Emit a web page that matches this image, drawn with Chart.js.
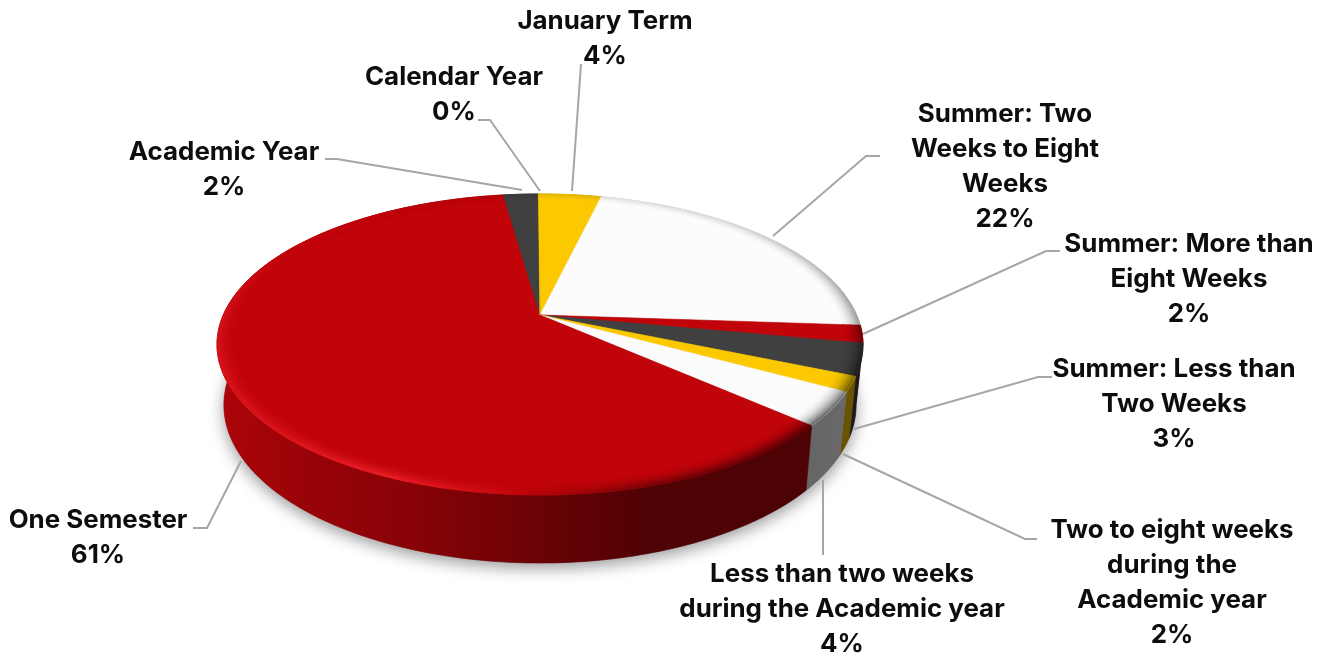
<!DOCTYPE html>
<html>
<head>
<meta charset="utf-8">
<title>Program duration</title>
<script src="https://cdn.jsdelivr.net/npm/chart.js@4"></script>
<style>
  html, body { margin: 0; padding: 0; background: #fff; }
  canvas { display: block; }
</style>
</head>
<body>
<canvas id="durationPie" width="1330" height="656"></canvas>
<script>
// chart data, clockwise from 12 o'clock
const categories = [
    ['January Term'],
    ['Summer: Two', 'Weeks to Eight', 'Weeks'],
    ['Summer: More than', 'Eight Weeks'],
    ['Summer: Less than', 'Two Weeks'],
    ['Two to eight weeks', 'during the', 'Academic year'],
    ['Less than two weeks', 'during the Academic year'],
    ['One Semester'],
    ['Academic Year'],
    ['Calendar Year']
];
const shares = [3.7, 22.4, 1.9, 3.4, 1.6, 3.6, 61.2, 2.1, 0.1];
const sliceColors = ['#FCC900', '#FCFCFC', '#C0040A', '#404040', '#FCC900', '#FCFCFC', '#C0040A', '#404040', '#FCC900'];

// label placement: centre x, centre y of first line
const labelSpots = [
    [605, 21], [1005, 114], [1189, 244], [1174, 369], [1172, 530],
    [842, 574], [98, 520], [224, 152], [454, 77]
];
// leader lines
const leaders = [
    [[581, 64], [572, 191]],
    [[880, 156], [866, 156], [773, 236]],
    [[1060, 251], [1046, 251], [863, 334]],
    [[1052, 377], [1038, 377], [854, 429]],
    [[1037, 539], [1025, 539], [843, 454]],
    [[823, 555], [823, 480]],
    [[193, 528], [207, 528], [241, 461]],
    [[325, 159], [337, 159], [522, 190]],
    [[478, 120], [490, 120], [540, 191]]
];

// perspective of the disc
const TOP = { cx: 540, cy: 315, rx: 316.7, ry: 144.7 };
const BOTTOM = { cx: 540, cy: 374, rx: 310, ry: 152 };
const TILT = 0.196;
const RIM_START = 0.94;
const STEP = Math.PI / 180;

function project(face, theta, r) {
    const u = Math.sin(theta) * r, v = Math.cos(theta) * r;
    const w = 1 + TILT * v;
    return [face.cx + face.rx * u / w, face.cy - face.ry * v / w];
}

function hexToRgb(hex) {
    return [1, 3, 5].map(i => parseInt(hex.substr(i, 2), 16));
}
function mix(a, b, t) {
    return a.map((c, i) => c + (b[i] - c) * t);
}
function css(c) {
    return 'rgb(' + c.map(Math.round).join(',') + ')';
}
function lookup(table, x) {
    if (x <= table[0][0]) return table[0][1];
    for (let i = 1; i < table.length; i++) {
        if (x <= table[i][0]) {
            const t = (x - table[i - 1][0]) / (table[i][0] - table[i - 1][0]);
            return table[i - 1][1] + (table[i][1] - table[i - 1][1]) * t;
        }
    }
    return table[table.length - 1][1];
}

// side brightness by x, rim light by angle in degrees
const sideLight = [[217, 0.9], [300, 0.8], [400, 0.72], [540, 0.55], [640, 0.42], [800, 0.4], [862, 0.42]];
const rimLight = [[0, -0.12], [45, -0.2], [90, -0.5], [130, -0.8], [165, -0.5], [180, -0.1], [190, 0.3], [203, 0.65], [225, 0.42], [250, 0.36], [270, 0.32], [295, 0.06], [330, -0.05], [360, -0.12]];

function fillQuad(ctx, pts, color) {
    ctx.fillStyle = color;
    ctx.strokeStyle = color;
    ctx.lineWidth = 0.6;
    ctx.beginPath();
    pts.forEach((p, i) => i ? ctx.lineTo(p[0], p[1]) : ctx.moveTo(p[0], p[1]));
    ctx.closePath();
    ctx.fill();
    ctx.stroke();
}

function drawDisc(ctx, arcs) {
    // soft shadow under the disc
    ctx.save();
    ctx.shadowColor = 'rgba(0,0,0,0.4)';
    ctx.shadowBlur = 16;
    ctx.shadowOffsetY = 5;
    ctx.fillStyle = '#777';
    ctx.beginPath();
    for (let a = 0; a < Math.PI * 2; a += STEP) {
        const p = project(BOTTOM, a, 1);
        a ? ctx.lineTo(p[0], p[1]) : ctx.moveTo(p[0], p[1]);
    }
    ctx.closePath();
    ctx.fill();
    ctx.restore();

    // side wall, one gradient across x per slice
    arcs.forEach(arc => {
        const base = hexToRgb(arc.color);
        const grad = ctx.createLinearGradient(217, 0, 862, 0);
        sideLight.forEach(s => {
            grad.addColorStop((s[0] - 217) / 645, css(base.map(c => c * s[1])));
        });
        const upper = [], lower = [];
        for (let a = arc.start; a < arc.end; a += STEP) {
            upper.push(project(TOP, a, 1));
            lower.unshift(project(BOTTOM, a, 1));
        }
        upper.push(project(TOP, arc.end, 1));
        lower.unshift(project(BOTTOM, arc.end, 1));
        fillQuad(ctx, upper.concat(lower), grad);
    });

    // flat top
    arcs.forEach(arc => {
        const pts = [[TOP.cx, TOP.cy]];
        for (let a = arc.start; a < arc.end; a += STEP) pts.push(project(TOP, a, 1));
        pts.push(project(TOP, arc.end, 1));
        fillQuad(ctx, pts, arc.color);
    });

    // bevelled rim, strips from inside to outside
    const bands = 8;
    arcs.forEach(arc => {
        const base = hexToRgb(arc.color);
        for (let a = arc.start; a < arc.end; a += STEP) {
            const b = Math.min(a + STEP, arc.end);
            const s = lookup(rimLight, (a + b) / 2 * 180 / Math.PI);
            for (let n = 0; n < bands; n++) {
                const r1 = RIM_START + (1 - RIM_START) * n / bands;
                const r2 = RIM_START + (1 - RIM_START) * (n + 1) / bands;
                const t = (n + 1) / bands;
                const shaded = s > 0
                    ? mix(base, [255, 44, 54], s * t * t * (arc.color === '#C0040A' ? 1 : 0))
                    : mix(base, base.map(c => c * 0.42), Math.min(1, -s * t * t * 1.2));
                fillQuad(ctx, [project(TOP, a, r1), project(TOP, b, r1), project(TOP, b, r2), project(TOP, a, r2)], css(shaded));
            }
        }
    });
}

const pie3d = {
    id: 'pie3d',
    beforeDatasetsDraw(chart) {
        const ctx = chart.ctx;
        const meta = chart.getDatasetMeta(0);
        const colors = chart.data.datasets[0].backgroundColor;
        // angles come from the pie controller, shifted so 0 is 12 o'clock
        const arcs = meta.data.map((el, i) => ({
            start: el.startAngle + Math.PI / 2,
            end: el.endAngle + Math.PI / 2,
            color: colors[i]
        }));
        ctx.save();
        drawDisc(ctx, arcs);
        ctx.restore();
        return false;
    },
    afterDraw(chart) {
        const ctx = chart.ctx;
        const data = chart.data.datasets[0].data;
        const total = data.reduce((a, b) => a + b, 0);
        ctx.save();
        ctx.strokeStyle = '#A6A6A6';
        ctx.lineWidth = 2;
        leaders.forEach(line => {
            ctx.beginPath();
            line.forEach((p, i) => i ? ctx.lineTo(p[0], p[1]) : ctx.moveTo(p[0], p[1]));
            ctx.stroke();
        });
        ctx.fillStyle = '#0D0D0D';
        ctx.font = '700 25.9px Inter';
        ctx.textAlign = 'center';
        ctx.textBaseline = 'middle';
        chart.data.labels.forEach((lines, i) => {
            const rows = lines.concat(Math.round(data[i] / total * 100) + '%');
            rows.forEach((row, n) => {
                ctx.fillText(row, labelSpots[i][0], labelSpots[i][1] + n * 35.1);
            });
        });
        ctx.restore();
    }
};

new Chart(document.getElementById('durationPie').getContext('2d'), {
    type: 'pie',
    data: {
        labels: categories,
        datasets: [{ data: shares, backgroundColor: sliceColors, borderWidth: 0 }]
    },
    options: {
        responsive: false,
        animation: false,
        plugins: {
            legend: { display: false },
            tooltip: { enabled: false }
        }
    },
    plugins: [pie3d]
});
</script>
</body>
</html>
